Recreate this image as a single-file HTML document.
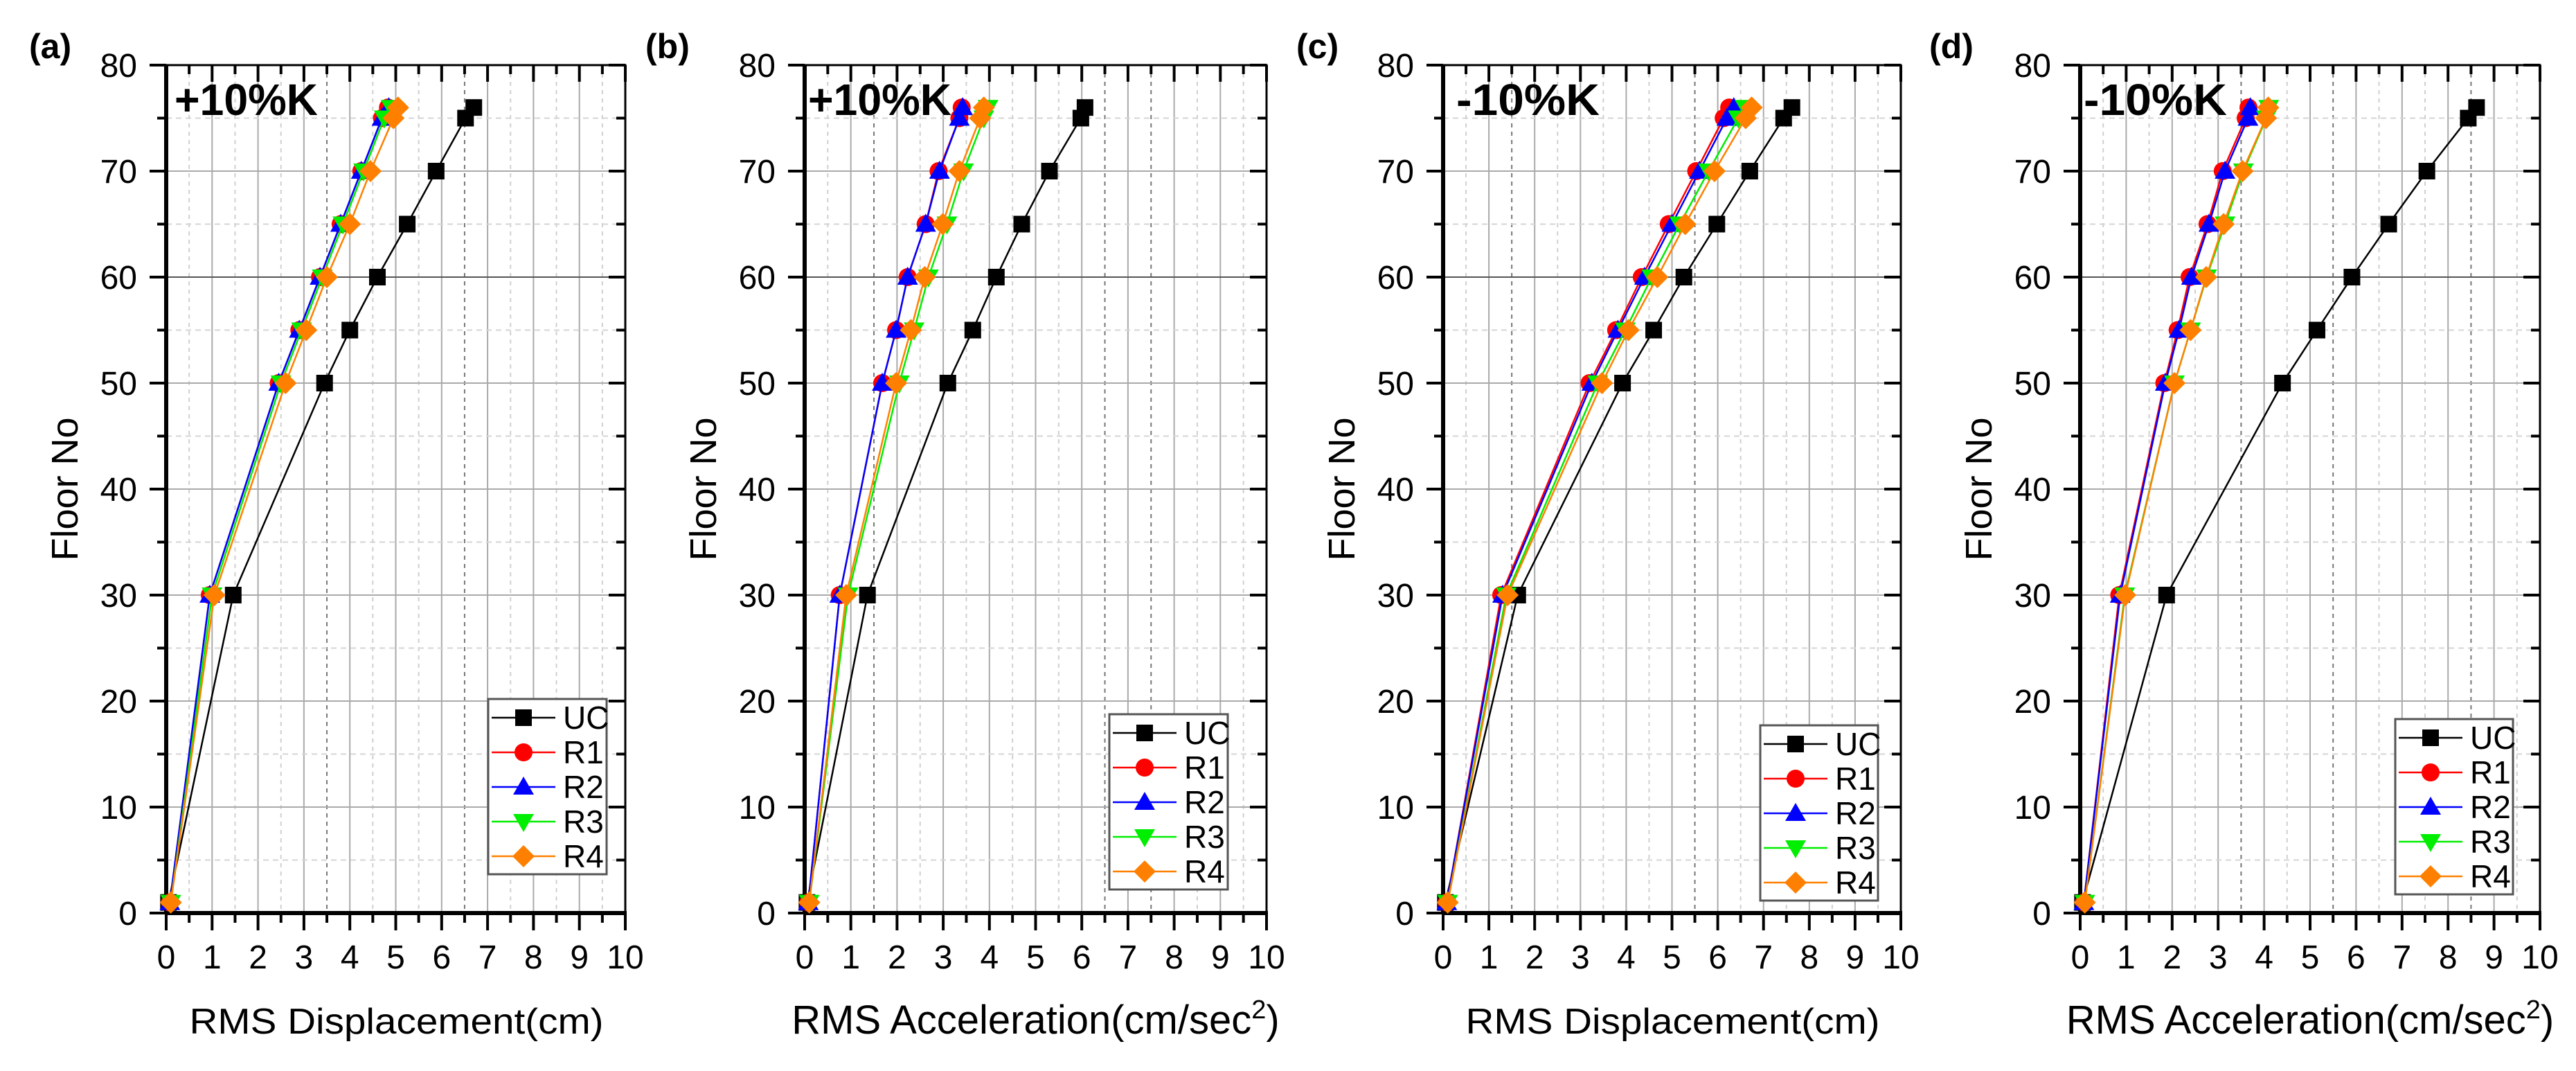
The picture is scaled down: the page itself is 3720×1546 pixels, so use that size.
<!DOCTYPE html>
<html><head><meta charset="utf-8">
<style>
html,body{margin:0;padding:0;background:#fff;}
svg{display:block;font-family:"Liberation Sans",Arial,sans-serif;}
</style></head>
<body>
<svg id="chart" width="3720" height="1546" viewBox="0 0 3720 1546" xmlns="http://www.w3.org/2000/svg"></svg>
<script>
const floors = [1, 30, 50, 55, 60, 65, 70, 75, 76];
const seriesNames = ["UC", "R1", "R2", "R3", "R4"];
const xTicks = [0,1,2,3,4,5,6,7,8,9,10];
const yTicks = [0,10,20,30,40,50,60,70,80];
const panelLabels = ["(a)", "(b)", "(c)", "(d)"];
const panelTags = ["+10%K", "+10%K", "-10%K", "-10%K"];
const xTitles = ["RMS Displacement(cm)", "RMS Acceleration(cm/sec2)", "RMS Displacement(cm)", "RMS Acceleration(cm/sec2)"];

const a_UC = [0.05, 1.46, 3.45, 4.0, 4.6, 5.25, 5.88, 6.52, 6.7];
const a_R1 = [0.08, 0.95, 2.45, 2.9, 3.35, 3.8, 4.25, 4.7, 4.83];
const a_R2 = [0.08, 0.95, 2.45, 2.9, 3.35, 3.8, 4.25, 4.7, 4.85];
const a_R3 = [0.1, 1.0, 2.5, 2.95, 3.4, 3.85, 4.3, 4.75, 4.9];
const a_R4 = [0.1, 1.05, 2.6, 3.05, 3.5, 4.0, 4.45, 4.95, 5.05];

const b_UC = [0.05, 1.36, 3.1, 3.64, 4.15, 4.7, 5.3, 5.98, 6.07];
const b_R1 = [0.08, 0.76, 1.68, 1.98, 2.23, 2.62, 2.9, 3.35, 3.4];
const b_R2 = [0.08, 0.76, 1.68, 1.98, 2.23, 2.62, 2.92, 3.35, 3.42];
const b_R3 = [0.1, 0.94, 2.05, 2.37, 2.68, 3.08, 3.44, 3.88, 3.97];
const b_R4 = [0.1, 0.9, 1.98, 2.3, 2.6, 2.99, 3.35, 3.8, 3.88];

const c_UC = [0.05, 1.63, 3.92, 4.6, 5.26, 5.98, 6.7, 7.44, 7.62];
const c_R1 = [0.08, 1.27, 3.2, 3.78, 4.34, 4.93, 5.53, 6.13, 6.25];
const c_R2 = [0.08, 1.3, 3.25, 3.82, 4.4, 5.0, 5.6, 6.2, 6.35];
const c_R3 = [0.1, 1.38, 3.38, 3.98, 4.56, 5.17, 5.8, 6.45, 6.6];
const c_R4 = [0.1, 1.41, 3.47, 4.05, 4.68, 5.29, 5.93, 6.61, 6.74];

const d_UC = [0.05, 1.88, 4.4, 5.15, 5.91, 6.71, 7.54, 8.44, 8.62];
const d_R1 = [0.08, 0.85, 1.83, 2.12, 2.38, 2.77, 3.1, 3.6, 3.66];
const d_R2 = [0.08, 0.87, 1.85, 2.15, 2.42, 2.8, 3.15, 3.65, 3.7];
const d_R3 = [0.1, 0.97, 2.05, 2.4, 2.75, 3.15, 3.55, 4.05, 4.1];
const d_R4 = [0.1, 0.98, 2.05, 2.4, 2.74, 3.12, 3.53, 4.04, 4.09];

const panelData = [
  [a_UC, a_R1, a_R2, a_R3, a_R4],
  [b_UC, b_R1, b_R2, b_R3, b_R4],
  [c_UC, c_R1, c_R2, c_R3, c_R4],
  [d_UC, d_R1, d_R2, d_R3, d_R4]
];

const layout = [
  {x0:240, x1:903, lab:42, tag:252, leg:[705,1009,171,253]},
  {x0:1162, x1:1829, lab:932, tag:1167, leg:[1602,1031,171,253]},
  {x0:2084, x1:2745, lab:1872, tag:2103, leg:[2542,1047,170,253]},
  {x0:3004, x1:3668, lab:2786, tag:3009, leg:[3459,1038,170,253]}
];
const darkHalf = [[3.5,6.5],[1.5,6.5,7.5],[1.5,5.5],[3.5,5.5,8.5]];
const Y0 = 1318, Y1 = 94;
const colors = ["#000000", "#ff0000", "#0000ff", "#00ee00", "#ff8000"];
const NS = "http://www.w3.org/2000/svg";
const svg = document.getElementById("chart");

function mk(tag, attrs, parent) {
  const e = document.createElementNS(NS, tag);
  for (const k in attrs) e.setAttribute(k, attrs[k]);
  (parent || svg).appendChild(e);
  return e;
}
function marker(g, s, cx, cy, col) {
  let e;
  if (s === 0) e = mk("rect", {x:cx-12, y:cy-12, width:24, height:24, fill:col}, g);
  else if (s === 1) e = mk("circle", {cx:cx, cy:cy, r:13, fill:col}, g);
  else if (s === 2) e = mk("polygon", {points:`${cx},${cy-15} ${cx-15},${cy+11} ${cx+15},${cy+11}`, fill:col}, g);
  else if (s === 3) e = mk("polygon", {points:`${cx},${cy+15} ${cx-15},${cy-11} ${cx+15},${cy-11}`, fill:col}, g);
  else e = mk("polygon", {points:`${cx},${cy-16} ${cx+16},${cy} ${cx},${cy+16} ${cx-16},${cy}`, fill:col}, g);
  return e;
}

layout.forEach((L, p) => {
  const xs = v => L.x0 + (L.x1 - L.x0) * v / 10;
  const ys = v => Y0 + (Y1 - Y0) * v / 80;
  const g = mk("g", {});
  
  

  const grid = mk("g", {}, g);
  
  
  for (let v = 0.5; v < 10; v += 1) {
    const dk = darkHalf[p].includes(v);
    mk("line", {x1:xs(v), x2:xs(v), y1:Y1, y2:Y0, stroke: dk ? "#777" : "#d0d0d0", "stroke-width":2, "stroke-dasharray":"6,6"}, grid);
  }
  for (let v = 1; v < 10; v++) mk("line", {x1:xs(v), x2:xs(v), y1:Y1, y2:Y0, stroke:"#aaa", "stroke-width":2}, grid);
  for (let v = 5; v < 80; v += 10) mk("line", {x1:L.x0, x2:L.x1, y1:ys(v), y2:ys(v), stroke:"#d5d5d5", "stroke-width":2, "stroke-dasharray":"8,6"}, grid);
  for (let v = 10; v < 80; v += 10) mk("line", {x1:L.x0, x2:L.x1, y1:ys(v), y2:ys(v), stroke: v === 60 ? "#555" : "#aaa", "stroke-width":2}, grid);

  const ax = mk("g", {}, g);
  
  
  mk("rect", {x:L.x0, y:Y1, width:L.x1-L.x0, height:Y0-Y1, fill:"none", stroke:"#000", "stroke-width":3}, ax);
  mk("line", {x1:L.x0, x2:L.x0, y1:Y1, y2:Y0+2, stroke:"#000", "stroke-width":6}, ax);
  mk("line", {x1:L.x0-2, x2:L.x1+2, y1:Y0, y2:Y0, stroke:"#000", "stroke-width":6}, ax);
  for (let v = 0; v <= 10; v += 0.5) {
    const maj = Number.isInteger(v);
    mk("line", {x1:xs(v), x2:xs(v), y1:Y0, y2:Y0 + (maj ? 25 : 14), stroke:"#000", "stroke-width":4}, ax);
    mk("line", {x1:xs(v), x2:xs(v), y1:Y1, y2:Y1 + (maj ? 24 : 13), stroke:"#000", "stroke-width":4}, ax);
  }
  for (let v = 0; v <= 80; v += 5) {
    const maj = v % 10 === 0;
    mk("line", {x1:L.x0, x2:L.x0 - (maj ? 24 : 13), y1:ys(v), y2:ys(v), stroke:"#000", "stroke-width":4}, ax);
    mk("line", {x1:L.x1, x2:L.x1 - (maj ? 24 : 13), y1:ys(v), y2:ys(v), stroke:"#000", "stroke-width":4}, ax);
  }
  xTicks.forEach(t => {
    const e = mk("text", {x:xs(t), y:1398, "font-size":48, "text-anchor":"middle"}, ax);
    e.textContent = t;
    
    
  });
  yTicks.forEach(t => {
    const e = mk("text", {x:L.x0 - 42, y:ys(t) + 17, "font-size":48, "text-anchor":"end"}, ax);
    e.textContent = t;
    
    
  });
  const yt = mk("text", {x:0, y:0, "font-size":54, "text-anchor":"middle", transform:`translate(${L.x0-128},${(Y0+Y1)/2}) rotate(-90)`}, g);
  yt.textContent = "Floor No";
  
  
  let xt;
  if (xTitles[p].endsWith("sec2)")) {
    xt = mk("text", {x:(L.x0+L.x1)/2, y:1492, "font-size":58, "text-anchor":"middle"}, g);
    xt.appendChild(document.createTextNode("RMS Acceleration(cm/sec"));
    const sup = mk("tspan", {dy:-22, "font-size":38}, xt); sup.textContent = "2";
    const cl = mk("tspan", {dy:22}, xt); cl.textContent = ")";
  } else {
    xt = mk("text", {x:(L.x0+L.x1)/2 - 298, y:1492, "font-size":52, textLength:598, lengthAdjust:"spacingAndGlyphs"}, g);
    xt.textContent = xTitles[p];
  }
  
  

  const pl = mk("text", {x:L.lab, y:84, "font-size":50, "font-weight":"bold"}, g);
  pl.textContent = panelLabels[p];
  
  
  const tg = mk("text", {x:L.tag, y:166, "font-size":64, "font-weight":"bold", textLength:207, lengthAdjust:"spacingAndGlyphs"}, g);
  tg.textContent = panelTags[p];
  
  

  panelData[p].forEach((vals, s) => {
    const sg = mk("g", {}, g);
    
    
    const pts = vals.map((v, i) => xs(v) + "," + ys(floors[i])).join(" ");
    mk("polyline", {points:pts, fill:"none", stroke:colors[s], "stroke-width":2.5}, sg);
    vals.forEach((v, i) => {
      const m = marker(sg, s, xs(v), ys(floors[i]), colors[s]);
      
      
    });
  });

  const [lx, ly, lw, lh] = L.leg;
  const lg = mk("g", {}, g);
  
  
  mk("rect", {x:lx, y:ly, width:lw, height:lh, fill:"#fff", stroke:"#555", "stroke-width":3}, lg);
  seriesNames.forEach((n, s) => {
    const cy = ly + 27 + s * 50;
    const ent = mk("g", {}, lg);
    
    
    mk("line", {x1:lx+5, x2:lx+97, y1:cy, y2:cy, stroke:colors[s], "stroke-width":2.5}, ent);
    marker(ent, s, lx+51, cy, colors[s]);
    const t = mk("text", {x:lx+108, y:cy+16, "font-size":46}, ent);
    t.textContent = n;
  });
});
</script>
</body></html>
